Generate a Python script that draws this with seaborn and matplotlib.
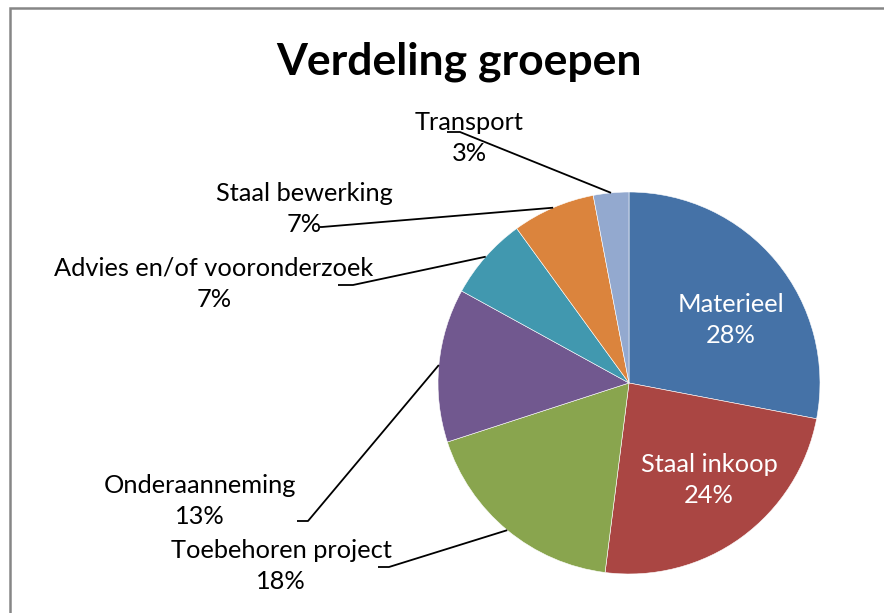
import numpy as np
import matplotlib
matplotlib.use("Agg")
import matplotlib.pyplot as plt
import seaborn as sns
from matplotlib.patches import Rectangle

# Data
categories = ["Materieel", "Staal inkoop", "Toebehoren project", "Onderaanneming",
              "Advies en/of vooronderzoek", "Staal bewerking", "Transport"]
shares = [28, 24, 18, 13, 7, 7, 3]
colors = ["#4572A7", "#AA4643", "#89A54E", "#71588F", "#4198AF", "#DB843D", "#93A9CF"]

sns.set_theme(style="white")
plt.rcParams["font.family"] = ["Lato", "DejaVu Sans"]
plt.rcParams["text.color"] = "black"

W, H = 884, 613
fig = plt.figure(figsize=(W / 100, H / 100), dpi=100)

# pie geometry in pixels (center and radius)
cx, cy, r = 629, 383, 191
ax = fig.add_axes([0, 0, 1, 1])


def px(x, y):
    # pixel position -> data coords
    return (x - cx) / r, (cy - y) / r


wedges, _ = ax.pie(shares, colors=sns.color_palette(colors), startangle=90,
                   counterclock=False, radius=1,
                   wedgeprops=dict(edgecolor="white", linewidth=0.4))
ax.set_xlim(-cx / r, (W - cx) / r)
ax.set_ylim(-(H - cy) / r, cy / r)
ax.set_aspect("equal")
ax.axis("off")

# label layout: (text center px, leader start px, leader bend px) ; None = inside label
layout = {
    "Materieel": ((731, 320), None, None),
    "Staal inkoop": ((709, 480), None, None),
    "Toebehoren project": ((281, 566), (378, 567), (389, 567)),
    "Onderaanneming": ((200, 501), (297, 521), (308, 521)),
    "Advies en/of vooronderzoek": ((214, 284), (338, 285), (353, 285)),
    "Staal bewerking": ((304, 209), (320, 227), (322, 227)),
    "Transport": ((469, 138), (447, 132), (460, 132)),
}

for w, name, val in zip(wedges, categories, shares):
    (tx, ty), start, bend = layout[name]
    inside = start is None
    ax.text(*px(tx, ty), f"{name}\n{val}%", ha="center", va="center",
            fontsize=18.3, linespacing=1.45,
            color="white" if inside else "black", zorder=5)
    if not inside:
        mid = np.deg2rad((w.theta1 + w.theta2) / 2)
        ex, ey = np.cos(mid), np.sin(mid)
        xs = [px(*start)[0], px(*bend)[0], ex]
        ys = [px(*start)[1], px(*bend)[1], ey]
        ax.plot(xs, ys, color="black", lw=1.3, solid_capstyle="butt", zorder=4)

fig.text(459 / W, 1 - 62 / H, "Verdeling groepen", ha="center", va="center",
         fontsize=32, fontweight="bold", color="black")

# chart area border (cropped on right and bottom)
fig.patches.append(Rectangle((10 / W, -0.1), 1.2, (H - 8) / H + 0.1,
                             transform=fig.transFigure, fill=False,
                             edgecolor="#868686", linewidth=1.8))

fig.savefig("out.png", dpi=100)
